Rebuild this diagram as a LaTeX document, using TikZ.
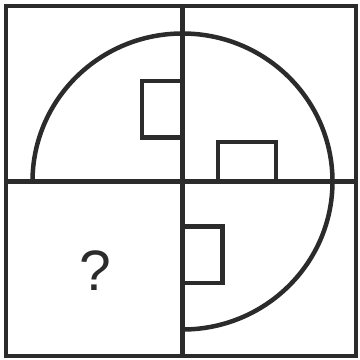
\documentclass[tikz,border=0pt]{standalone}
\usepackage{fontspec}
\setmainfont{Liberation Sans}
\definecolor{ink}{HTML}{2B2B2B}
\begin{document}
\begin{tikzpicture}[x=1pt,y=-1pt,
  lineart/.style={draw=ink,line width=4.5pt},
  frame/.style={lineart,line cap=rect}]
\useasboundingbox (0,0) rectangle (360,360);
% grid
\draw[frame] (6,6) rectangle (356,356);
\coordinate (ctop) at (182.5,6);
\coordinate (cbot) at (182.5,356);
\coordinate (cleft) at (6,181.5);
\coordinate (cright) at (356,181.5);
\draw[lineart] (ctop) -- (cbot);
\draw[lineart] (cleft) -- (cright);
% arc: from left, over top, right, to bottom
\coordinate (astart) at (32.5,181.5);
\draw[lineart] (astart) arc[start angle=180,end angle=-90,x radius=150,y radius=-148];
% rectangles
\draw[lineart] (182.5,81) -- (142,81) -- (142,137.5) -- (182.5,137.5);
\draw[lineart] (218,181.5) -- (218,142) -- (276,142) -- (276,181.5);
\draw[lineart] (182.5,226.5) -- (222.5,226.5) -- (222.5,283) -- (182.5,283);
% question mark
\node[text=ink,font=\fontsize{57}{57}\selectfont,inner sep=0pt] (q) at (95,270.5) {?};
\end{tikzpicture}
\end{document}
